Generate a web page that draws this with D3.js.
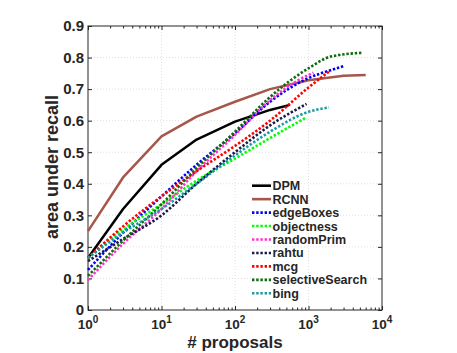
<!DOCTYPE html>
<html><head><meta charset="utf-8">
<script src="https://cdn.jsdelivr.net/npm/d3@7"></script>
<style>body{margin:0;background:#fff;}svg{display:block;font-family:"Liberation Sans",Arial,sans-serif;font-weight:bold;}</style>
</head><body><svg id="c" width="457" height="353"></svg>
<script>
const seriesNames = ["DPM","RCNN","edgeBoxes","objectness","randomPrim","rahtu","mcg","selectiveSearch","bing"];
const seriesColors = ["#000000","#a5574c","#0000ff","#00ff00","#ff33cc","#1a1a4d","#ff0000","#0d6b0d","#1a9aa3"];
const seriesDotted = [false,false,true,true,true,true,true,true,true];
const dpmN = [1,3,10,30,100,300,560];
const dpmV = [0.165,0.32,0.46,0.54,0.597,0.634,0.65];
const rcnnN = [1,3,10,30,100,300,1000,3000,6000];
const rcnnV = [0.25,0.42,0.55,0.613,0.66,0.70,0.728,0.742,0.745];
const edgeBoxesN = [1,3,10,30,100,300,1000,2000,3100];
const edgeBoxesV = [0.127,0.245,0.36,0.46,0.56,0.66,0.735,0.76,0.774];
const objectnessN = [1,3,10,30,100,300,930];
const objectnessV = [0.165,0.255,0.335,0.41,0.48,0.545,0.61];
const randomPrimN = [1,3,10,30,100,300,1000,1170];
const randomPrimV = [0.095,0.21,0.32,0.44,0.555,0.665,0.745,0.752];
const rahtuN = [1,3,10,30,100,300,940];
const rahtuV = [0.155,0.225,0.30,0.40,0.50,0.585,0.653];
const mcgN = [1,3,10,30,100,300,1000,1960];
const mcgV = [0.165,0.265,0.36,0.44,0.52,0.60,0.705,0.758];
const selectiveSearchN = [1,3,10,30,100,300,1000,2000,5300];
const selectiveSearchV = [0.108,0.22,0.335,0.45,0.565,0.675,0.766,0.803,0.815];
const bingN = [1,3,10,30,100,300,1000,1900];
const bingV = [0.165,0.245,0.32,0.40,0.49,0.565,0.628,0.642];
const xTicks = [1,10,100,1000,10000];
const xTickExp = ["0","1","2","3","4"];
const yTicks = [0,0.1,0.2,0.3,0.4,0.5,0.6,0.7,0.8,0.9];
const yTickLabels = ["0","0.1","0.2","0.3","0.4","0.5","0.6","0.7","0.8","0.9"];

const seriesN = [dpmN,rcnnN,edgeBoxesN,objectnessN,randomPrimN,rahtuN,mcgN,selectiveSearchN,bingN];
const seriesV = [dpmV,rcnnV,edgeBoxesV,objectnessV,randomPrimV,rahtuV,mcgV,selectiveSearchV,bingV];

const L=88,R=382,T=26,B=310;
const x = d3.scaleLog().domain([1,10000]).range([L,R]);
const y = d3.scaleLinear().domain([0,0.9]).range([B,T]);
const svg = d3.select("#c");
const ink="#262626";

// grid
const g = svg.append("g");
xTicks.slice(1,-1).forEach(t=>g.append("line").attr("x1",x(t)).attr("x2",x(t)).attr("y1",T).attr("y2",B)
  .attr("stroke","#d8d8d8").attr("stroke-width",0.8).attr("stroke-dasharray","1,2"));
yTicks.slice(1,-1).forEach(t=>g.append("line").attr("x1",L).attr("x2",R).attr("y1",y(t)).attr("y2",y(t))
  .attr("stroke","#d8d8d8").attr("stroke-width",0.8).attr("stroke-dasharray","1,2"));

// axes via d3 axis (inward ticks)
const minor = [];
for(let d=1; d<10000; d*=10) for(let k=2;k<=9;k++) minor.push(d*k);
function axisStyle(sel){sel.select(".domain").remove(); sel.selectAll("line").attr("stroke",ink);}
svg.append("g").attr("transform",`translate(0,${B})`).call(d3.axisTop(x).tickValues(xTicks).tickSize(4).tickFormat("")).call(axisStyle);
svg.append("g").attr("transform",`translate(0,${B})`).call(d3.axisTop(x).tickValues(minor).tickSize(2.5).tickFormat("")).call(axisStyle);
svg.append("g").attr("transform",`translate(0,${T})`).call(d3.axisBottom(x).tickValues(xTicks).tickSize(4).tickFormat("")).call(axisStyle);
svg.append("g").attr("transform",`translate(0,${T})`).call(d3.axisBottom(x).tickValues(minor).tickSize(2.5).tickFormat("")).call(axisStyle);
svg.append("g").attr("transform",`translate(${L},0)`).call(d3.axisRight(y).tickValues(yTicks).tickSize(4).tickFormat("")).call(axisStyle);
svg.append("g").attr("transform",`translate(${R},0)`).call(d3.axisLeft(y).tickValues(yTicks).tickSize(4).tickFormat("")).call(axisStyle);
svg.append("rect").attr("x",L).attr("y",T).attr("width",R-L).attr("height",B-T).attr("fill","none").attr("stroke",ink).attr("stroke-width",1);

// tick labels
yTicks.forEach((t,i)=>svg.append("text").attr("x",L-4).attr("y",y(t)+5.3).attr("text-anchor","end")
  .attr("font-size",15).attr("fill",ink).text(yTickLabels[i]));
xTicks.forEach((t,i)=>{
  const tx = svg.append("text").attr("x",x(t)).attr("y",329).attr("text-anchor","middle").attr("fill",ink).attr("font-size",13.5);
  tx.append("tspan").text("10");
  tx.append("tspan").attr("font-size",10).attr("dy",-6).text(xTickExp[i]);
});
// axis titles
svg.append("text").attr("x",(L+R)/2).attr("y",347.5).attr("text-anchor","middle").attr("font-size",17).attr("fill",ink).text("# proposals");
svg.append("text").attr("transform",`translate(58,${(T+B)/2-1}) rotate(-90)`).attr("text-anchor","middle").attr("font-size",18).attr("fill",ink).text("area under recall");

// series
seriesNames.forEach((nm,i)=>{
  const pts = seriesN[i].map((n,j)=>[n,seriesV[i][j]]);
  const line = d3.line().x(d=>x(d[0])).y(d=>y(d[1])).curve(seriesDotted[i]?d3.curveMonotoneX:d3.curveLinear);
  const p = svg.append("path").attr("d",line(pts)).attr("fill","none").attr("stroke",seriesColors[i])
    .attr("stroke-width",seriesDotted[i]?2.6:2.5).attr("stroke-linejoin","round");
  if(seriesDotted[i]) p.attr("stroke-dasharray","2.4,1.8");
});

// legend
const lx0=252, lx1=271, ly0=185.7, ldy=13.45;
seriesNames.forEach((nm,i)=>{
  const yy = ly0+i*ldy;
  const ln = svg.append("line").attr("x1",lx0).attr("x2",lx1).attr("y1",yy).attr("y2",yy)
    .attr("stroke",seriesColors[i]).attr("stroke-width",2.6);
  if(seriesDotted[i]) ln.attr("stroke-dasharray","2.4,1.8");
  svg.append("text").attr("x",lx1+1.5).attr("y",yy+4.5).attr("font-size",12.5).attr("fill",ink).text(nm);
});
</script></body></html>
